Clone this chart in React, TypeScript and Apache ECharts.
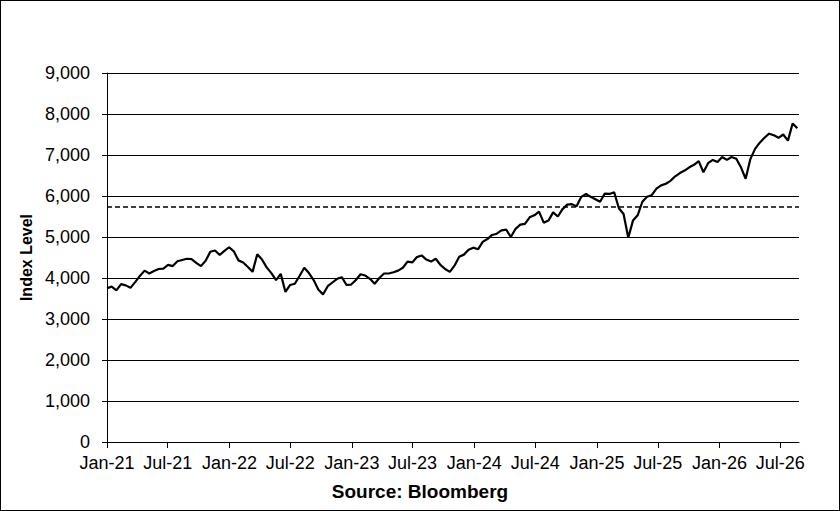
import React, { useEffect, useRef } from "react";
import * as echarts from "echarts";

// Series start date and spacing (biweekly observations)
const seriesStart = "2021-01-01";
const stepDays = 14;
const axisEnd = "2026-08-26";

// Index level (one value every two weeks)
const indexLevel = [
  3750, 3790, 3700, 3850, 3820, 3760, 3900, 4050, 4180, 4110,
  4170, 4220, 4230, 4320, 4290, 4410, 4440, 4470, 4460, 4370,
  4290, 4420, 4640, 4670, 4560, 4660, 4750, 4650, 4430, 4380,
  4270, 4150, 4580, 4450, 4260, 4120, 3950, 4100, 3660, 3830,
  3860, 4050, 4250, 4120, 3950, 3720, 3600, 3800, 3890, 3980,
  4020, 3830, 3840, 3950, 4090, 4060, 3980, 3860, 4000, 4110,
  4110, 4140, 4180, 4250, 4400, 4380, 4510, 4550, 4450, 4400,
  4470, 4320, 4220, 4150, 4300, 4520, 4570, 4690, 4740, 4700,
  4880, 4950, 5050, 5080, 5160, 5180, 5000, 5200, 5300, 5320,
  5480, 5530, 5620, 5350, 5400, 5600, 5500, 5680, 5790, 5800,
  5750, 5980, 6050, 5980, 5920, 5860, 6060, 6050, 6090, 5700,
  5560, 4980, 5400, 5530, 5860, 5980, 6020, 6180, 6260, 6300,
  6370, 6480, 6560, 6620, 6700, 6760, 6850, 6580, 6800, 6880,
  6830, 6950, 6880, 6950, 6910, 6700, 6420, 6900, 7150, 7300,
  7420, 7520, 7480, 7420, 7500, 7350, 7770, 7650,
];

// Horizontal dashed reference level
const referenceLevel = 5750;

// X-axis tick dates and labels
const tickDates = [
  "2021-01-01", "2021-07-01", "2022-01-01", "2022-07-01",
  "2023-01-01", "2023-07-01", "2024-01-01", "2024-07-01",
  "2025-01-01", "2025-07-01", "2026-01-01", "2026-07-01",
];
const tickLabels = [
  "Jan-21", "Jul-21", "Jan-22", "Jul-22", "Jan-23", "Jul-23",
  "Jan-24", "Jul-24", "Jan-25", "Jul-25", "Jan-26", "Jul-26",
];

// Y-axis range
const yMin = 0;
const yMax = 9000;
const yStep = 1000;

const toUTC = (s: string) => {
  const [y, m, d] = s.split("-").map(Number);
  return Date.UTC(y, m - 1, d);
};

const FONT = "'Liberation Sans', Arial, sans-serif";

export default function App() {
  const ref = useRef<HTMLDivElement>(null);

  useEffect(() => {
    document.body.style.margin = "0";
    if (!ref.current) return;
    const chart = echarts.init(ref.current, undefined, { renderer: "svg" });

    const start = toUTC(seriesStart);
    const dayMs = 86400000;
    const data = indexLevel.map((v, i) => [start + i * stepDays * dayMs, v]);
    const tickValues = tickDates.map(toUTC);
    const labelFor = (v: number) => {
      const idx = tickValues.findIndex((t) => Math.abs(t - v) < dayMs / 2);
      return idx >= 0 ? tickLabels[idx] : "";
    };

    try {
      chart.setOption({
        animation: false,
        backgroundColor: "#fff",
        textStyle: { fontFamily: FONT },
        title: {
          text: "Source: Bloomberg",
          left: "center",
          top: 481,
          padding: 0,
          textStyle: { fontFamily: FONT, fontSize: 19, fontWeight: "bold", color: "#000" },
        },
        grid: { left: 106, right: 40, top: 72, bottom: 68 },
        xAxis: {
          type: "value",
          min: start,
          max: toUTC(axisEnd),
          axisLine: { show: true, lineStyle: { color: "#000", width: 1 } },
          axisTick: {
            show: true,
            length: 6,
            lineStyle: { color: "#000" },
            customValues: tickValues,
          },
          axisLabel: {
            customValues: tickValues,
            margin: 12,
            color: "#000",
            fontFamily: FONT,
            fontSize: 18,
            formatter: (v: number) => labelFor(v),
            showMinLabel: true,
            showMaxLabel: true,
          },
          splitLine: { show: false },
        },
        yAxis: {
          type: "value",
          min: yMin,
          max: yMax,
          interval: yStep,
          name: "Index Level",
          nameLocation: "middle",
          nameGap: 62,
          nameTextStyle: { fontFamily: FONT, fontSize: 16, fontWeight: "bold", color: "#000" },
          axisLine: { show: true, lineStyle: { color: "#000", width: 1 } },
          axisTick: { show: true, inside: false, length: 5, lineStyle: { color: "#000" } },
          axisLabel: {
            margin: 17,
            color: "#000",
            fontFamily: FONT,
            fontSize: 18,
            formatter: (v: number) => v.toLocaleString("en-US"),
          },
          splitLine: { show: true, lineStyle: { color: "#000", width: 1 } },
        },
        series: [
          {
            type: "line",
            data,
            symbol: "none",
            lineStyle: { color: "#000", width: 2.2 },
            markLine: {
              silent: true,
              symbol: ["none", "none"],
              label: { show: false },
              lineStyle: { color: "#000", width: 1.5, type: [5, 3] },
              data: [{ yAxis: referenceLevel }],
            },
          },
        ],
      });
    } catch (e) {
      console.error(e);
    }

    return () => chart.dispose();
  }, []);

  return (
    <div
      style={{
        width: 840,
        height: 511,
        boxSizing: "border-box",
        border: "1px solid #000",
        background: "#fff",
      }}
    >
      <div ref={ref} style={{ width: 838, height: 509 }} />
    </div>
  );
}
